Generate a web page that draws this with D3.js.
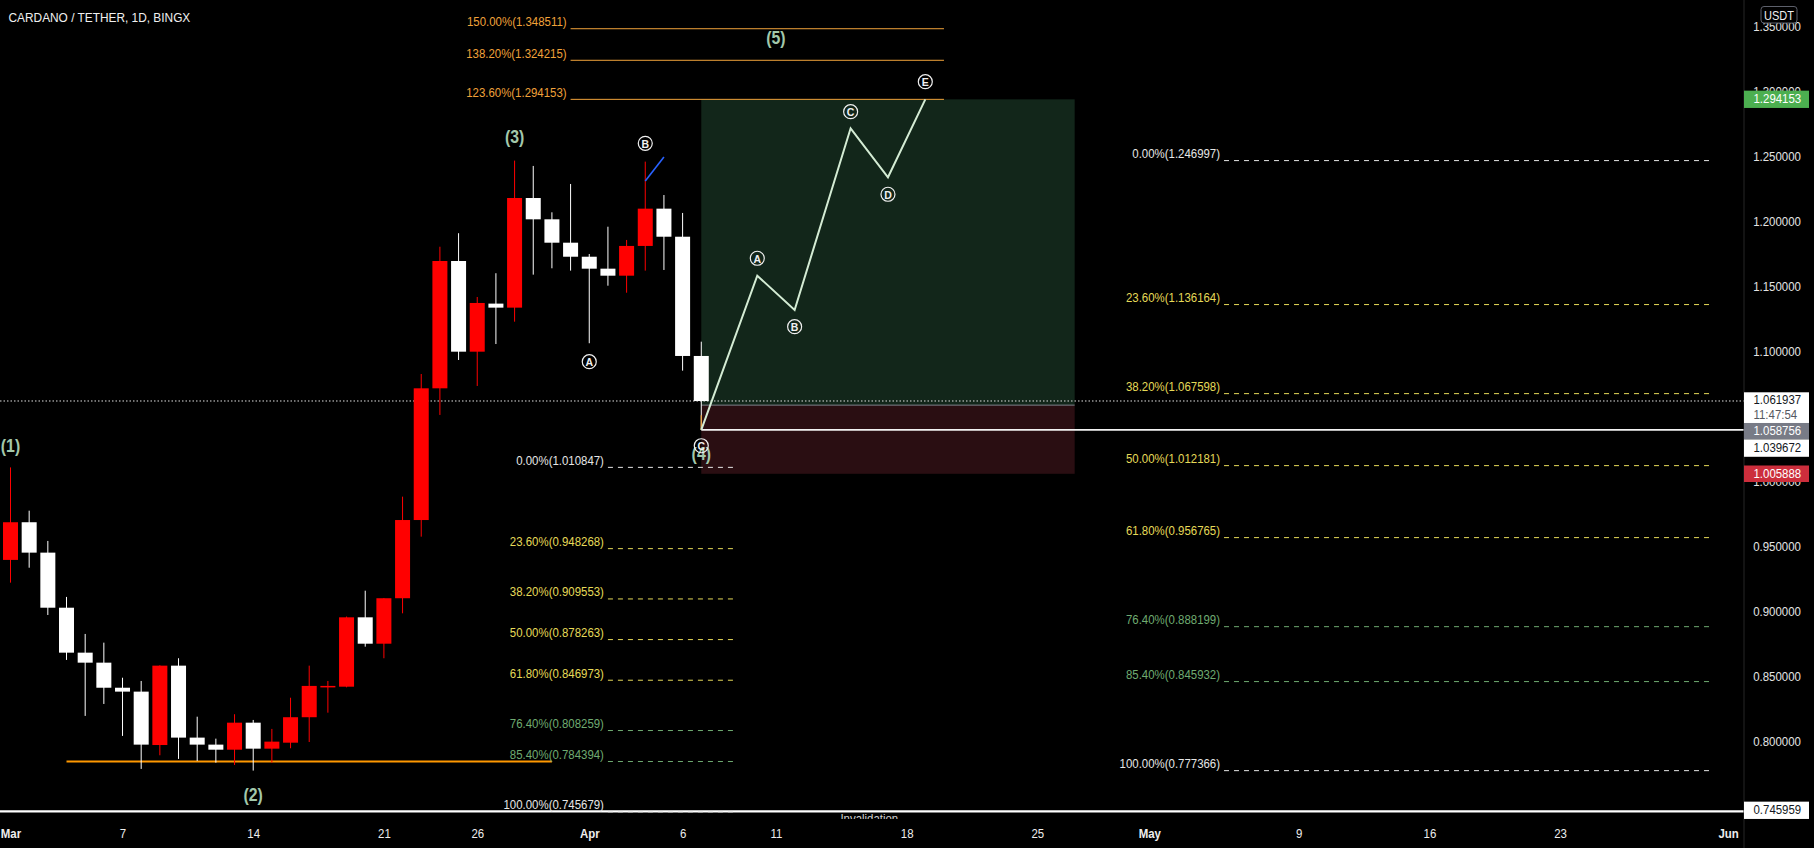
<!DOCTYPE html>
<html><head><meta charset="utf-8">
<script src="https://cdn.jsdelivr.net/npm/d3@7/dist/d3.min.js"></script>
<style>html,body{margin:0;padding:0;background:#000;overflow:hidden}</style>
</head><body>
<svg id="c" width="1814" height="848"></svg>
<script>
// ---------------- DATA ----------------
const dates = ["2022-03-01","2022-03-02","2022-03-03","2022-03-04","2022-03-05","2022-03-06","2022-03-07","2022-03-08","2022-03-09","2022-03-10",
  "2022-03-11","2022-03-12","2022-03-13","2022-03-14","2022-03-15","2022-03-16","2022-03-17","2022-03-18","2022-03-19","2022-03-20",
  "2022-03-21","2022-03-22","2022-03-23","2022-03-24","2022-03-25","2022-03-26","2022-03-27","2022-03-28","2022-03-29","2022-03-30",
  "2022-03-31","2022-04-01","2022-04-02","2022-04-03","2022-04-04","2022-04-05","2022-04-06","2022-04-07"];
const open  = [0.9396,0.9686,0.9452,0.9028,0.8682,0.8605,0.8412,0.8382,0.7971,0.8582,
  0.8028,0.7974,0.7935,0.8143,0.7943,0.7989,0.8185,0.8420,0.8420,0.8954,
  0.8751,0.9101,0.9703,1.0717,1.1697,1.0999,1.1369,1.1338,1.2182,1.2018,
  1.1838,1.1730,1.1638,1.1584,1.1813,1.2100,1.1884,1.0966];
const high  = [1.0108,0.9775,0.9542,0.9111,0.8826,0.8759,0.8489,0.8464,0.8585,0.8639,
  0.8189,0.8020,0.8208,0.8164,0.8095,0.8335,0.8582,0.8464,0.8960,0.9159,
  0.9103,0.9883,1.0827,1.1807,1.1911,1.1420,1.1603,1.2470,1.2429,1.2072,
  1.2290,1.1751,1.1961,1.1859,1.2462,1.2205,1.2067,1.1076];
const low   = [0.9221,0.9336,0.8972,0.8626,0.8195,0.8287,0.8041,0.7787,0.7892,0.7864,
  0.7848,0.7835,0.7817,0.7774,0.7835,0.7946,0.7994,0.8220,0.8415,0.8728,
  0.8639,0.8985,0.9575,1.0512,1.0935,1.0735,1.1058,1.1230,1.1592,1.1641,
  1.1623,1.1064,1.1507,1.1453,1.1623,1.1628,1.0853,1.0397];
const close = [0.9686,0.9452,0.9028,0.8682,0.8605,0.8412,0.8382,0.7974,0.8582,0.8028,
  0.7974,0.7935,0.8143,0.7943,0.7997,0.8185,0.8426,0.8426,0.8954,0.8751,
  0.9101,0.9703,1.0717,1.1697,1.0999,1.1374,1.1338,1.2182,1.2018,1.1838,
  1.1730,1.1638,1.1584,1.1813,1.2100,1.1884,1.0966,1.0619];

const xTickDates  = ["2022-03-01","2022-03-07","2022-03-14","2022-03-21","2022-03-26","2022-04-01","2022-04-06","2022-04-11","2022-04-18","2022-04-25","2022-05-01","2022-05-09","2022-05-16","2022-05-23","2022-06-01"];
const xTickLabels = ["Mar","7","14","21","26","Apr","6","11","18","25","May","9","16","23","Jun"];
const yTicks = [0.75,0.80,0.85,0.90,0.95,1.00,1.10,1.15,1.20,1.25,1.30,1.35];

// Fibonacci retracement (left), retracement (right), extension (top)
const leftFibPct  = [0,23.6,38.2,50,61.8,76.4,85.4,100];
const leftFibVal  = [1.010847,0.948268,0.909553,0.878263,0.846973,0.808259,0.784394,0.745679];
const rightFibPct = [0,23.6,38.2,50,61.8,76.4,85.4,100];
const rightFibVal = [1.246997,1.136164,1.067598,1.012181,0.956765,0.888199,0.845932,0.777366];
const extFibPct   = [123.6,138.2,150];
const extFibVal   = [1.294153,1.324215,1.348511];

// projected wave path (A-B-C-D-E)
const projDates  = ["2022-04-07","2022-04-10","2022-04-12","2022-04-15","2022-04-17","2022-04-19"];
const projValues = [1.039672,1.15841,1.13201,1.27188,1.23416,1.294153];
const projLetters = ["","A","B","C","D","E"];
const projLabelValues = [null,1.17181,1.11915,1.28466,1.22108,1.30776];

// Elliott wave labels
const waveNames  = ["(1)","(2)","(3)","(4)","(5)"];
const waveDates  = ["2022-03-01","2022-03-14","2022-03-28","2022-04-07","2022-04-11"];
const waveValues = [1.0275,0.7586,1.2654,1.0212,1.3409];
// circled correction labels
const corrLetters = ["A","B","C"];
const corrDates   = ["2022-04-01","2022-04-04","2022-04-07"];
const corrValues  = [1.0922,1.2603,1.0275];

// position tool
const entryPrice = 1.058756, targetPrice = 1.294153, stopPrice = 1.005888;
const posStart = "2022-04-07", posEnd = "2022-04-27";
const lastPrice = 1.061937, countdown = "11:47:54";
const lowLine = 1.039672, bottomLine = 0.745959, supportLine = 0.784394;
const blueDates = ["2022-04-04","2022-04-05"], blueValues = [1.2313,1.2498];

// ---------------- DRAW ----------------
const W = 1814, H = 848, plotR = 1744, plotB = 819, SX = 0.88;
const FONT = "'Liberation Sans', Arial, sans-serif";
const P = d3.utcParse("%Y-%m-%d");
const svg = d3.select("#c").attr("font-family", FONT);
svg.append("rect").attr("width", W).attr("height", H).attr("fill", "#000");

const x = d3.scaleUtc().domain([P("2022-03-01"), P("2022-06-01")]).range([10.5, 1728.1]);
const y = d3.scaleLinear().domain([0.75, 1.35]).range([806.2, 26.8]);

svg.append("clipPath").attr("id", "pc").append("rect").attr("width", plotR).attr("height", plotB);
const g = svg.append("g").attr("clip-path", "url(#pc)");

function T(sel, px, py, s, o = {}) {
  return sel.append("text")
    .attr("transform", `translate(${px},${py}) scale(${o.sx ?? SX},1)`)
    .attr("text-anchor", o.anchor || "start")
    .attr("dominant-baseline", o.base || "auto")
    .attr("font-size", o.size || 13)
    .attr("font-weight", o.weight || "normal")
    .attr("fill", o.fill || "#fff")
    .text(s);
}
function hline(sel, x0, x1, v, color, w, dash) {
  return sel.append("line").attr("x1", x0).attr("x2", x1).attr("y1", y(v)).attr("y2", y(v))
    .attr("stroke", color).attr("stroke-width", w).attr("stroke-dasharray", dash || null);
}

// position boxes
const bx0 = x(P(posStart)), bx1 = x(P(posEnd));
g.append("rect").attr("x", bx0).attr("width", bx1 - bx0).attr("y", y(targetPrice)).attr("height", y(entryPrice) - y(targetPrice)).attr("fill", "#12261a");
g.append("rect").attr("x", bx0).attr("width", bx1 - bx0).attr("y", y(entryPrice)).attr("height", y(stopPrice) - y(entryPrice)).attr("fill", "#2a0e12");
hline(g, bx0, bx1, entryPrice, "#7f838c", 1);

// lines
hline(g, 0, plotR, lastPrice, "#e0e0e0", 1, "1.5,2");
hline(g, bx0, plotR, lowLine, "#f2f2f2", 1.6);
hline(g, 0, plotR, bottomLine, "#ffffff", 2.2);
hline(g, x(P("2022-03-04")), x(P("2022-03-30")), supportLine, "#ff9800", 2);

// fib levels
function fibColor(p) {
  if (p === 0 || p === 100) return "#e6e6e6";
  if (p > 100) return "#f0a23a";
  if (p > 70) return "#6fab71";
  return "#e6da58";
}
function drawFib(pcts, vals, d0, d1, dashed) {
  const x0 = x(d0), x1 = x(d1);
  pcts.forEach((p, i) => {
    const c = fibColor(p);
    hline(g, x0, x1, vals[i], c, 1, dashed ? "5,5" : null);
    T(g, x0 - 4, y(vals[i]) - 2.5, `${p.toFixed(2)}%(${vals[i].toFixed(6)})`, {anchor: "end", fill: c});
  });
}
drawFib(leftFibPct, leftFibVal, P("2022-04-02"), new Date(Date.UTC(2022, 3, 8, 18)), true);
drawFib(rightFibPct, rightFibVal, P("2022-05-05"), P("2022-05-31"), true);
drawFib(extFibPct, extFibVal, P("2022-03-31"), P("2022-04-20"), false);

// candles
const candles = dates.map((d, i) => ({d: P(d), o: open[i], h: high[i], l: low[i], c: close[i]}));
const cg = g.append("g");
const up = d => d.c >= d.o;
cg.selectAll("line.w").data(candles).join("line")
  .attr("x1", d => x(d.d)).attr("x2", d => x(d.d)).attr("y1", d => y(d.h)).attr("y2", d => y(d.l))
  .attr("stroke", d => up(d) ? "#ff0000" : "#ffffff").attr("stroke-width", 1);
cg.selectAll("rect.b").data(candles).join("rect")
  .attr("x", d => x(d.d) - 7.5).attr("width", 15)
  .attr("y", d => y(Math.max(d.o, d.c))).attr("height", d => Math.max(1.5, Math.abs(y(d.o) - y(d.c))))
  .attr("fill", d => up(d) ? "#ff0000" : "#ffffff");

// small orange anchor segment and blue line
g.append("line").attr("x1", x(P(posStart))).attr("x2", x(P(posStart))).attr("y1", y(1.051)).attr("y2", y(lowLine)).attr("stroke", "#f0a23a").attr("stroke-width", 1.2);
g.append("path").attr("d", d3.line()(blueDates.map((d, i) => [x(P(d)), y(blueValues[i])])))
  .attr("stroke", "#2962ff").attr("stroke-width", 1.6).attr("fill", "none");

// projection path
g.append("path").attr("d", d3.line()(projDates.map((d, i) => [x(P(d)), y(projValues[i])])))
  .attr("stroke", "#d4ecd4").attr("stroke-width", 2).attr("fill", "none").attr("stroke-linejoin", "miter");

function circled(px, py, letter) {
  g.append("circle").attr("cx", px).attr("cy", py).attr("r", 7).attr("fill", "none").attr("stroke", "#f0f0f0").attr("stroke-width", 1.2);
  T(g, px, py + 0.5, letter, {anchor: "middle", base: "central", size: 10.5, weight: "bold", sx: 1, fill: "#f0f0f0"});
}
// wave labels
waveNames.forEach((n, i) => T(g, x(P(waveDates[i])), y(waveValues[i]), n, {anchor: "middle", base: "central", size: 18, weight: "bold", fill: "#a3c8ab"}));
corrLetters.forEach((l, i) => circled(x(P(corrDates[i])), y(corrValues[i]), l));
projLetters.forEach((l, i) => { if (l) circled(x(P(projDates[i])), y(projLabelValues[i]), l); });

// partially hidden text of the position tool
T(g, x(P("2022-04-16")), 823, "Invalidation", {anchor: "middle", fill: "#cfcfcf"});

// title
T(svg, 8.5, 17, "CARDANO / TETHER, 1D, BINGX", {base: "central", size: 13.5, fill: "#f0f0f0"});

// ---------------- AXES ----------------
svg.append("line").attr("x1", plotR).attr("x2", plotR).attr("y1", 0).attr("y2", H).attr("stroke", "#262626");

const gx = svg.append("g").attr("transform", `translate(0,${plotB})`)
  .call(d3.axisBottom(x).tickValues(xTickDates.map(P)).tickFormat((d, i) => xTickLabels[i]).tickSize(0).tickPadding(0));
gx.select(".domain").remove();
gx.attr("font-family", FONT).attr("font-size", 13);
gx.selectAll("text").attr("y", 15).attr("dy", null).attr("dominant-baseline", "central")
  .attr("fill", "#eeeeee").attr("transform", `scale(${SX},1)`)
  .attr("font-weight", (d, i) => isNaN(+xTickLabels[i]) ? "bold" : "normal");

const gy = svg.append("g").attr("transform", `translate(${plotR},0)`)
  .call(d3.axisRight(y).tickValues(yTicks).tickFormat(d3.format(".6f")).tickSize(0).tickPadding(10.5));
gy.select(".domain").remove();
gy.attr("font-family", FONT).attr("font-size", 13);
gy.selectAll("text").attr("fill", "#e3e3e3").attr("transform", `scale(${SX},1)`);

// price labels on axis
const ax = svg.append("g");
function tag(top, h, fill, lines) {
  ax.append("rect").attr("x", plotR).attr("y", top).attr("width", 65).attr("height", h).attr("fill", fill);
  lines.forEach(l => T(ax, plotR + 9.5, l.y, l.t, {base: "central", fill: l.c}));
}
tag(y(targetPrice) - 8.7, 17.3, "#4caf50", [{t: targetPrice.toFixed(6), y: y(targetPrice) - 0.5, c: "#ffffff"}]);
const st = y(lastPrice) - 8.7;
tag(st, 30.7, "#ffffff", [{t: lastPrice.toFixed(6), y: st + 7.5, c: "#131722"}, {t: countdown, y: st + 22, c: "#555861"}]);
tag(st + 30.7, 16.4, "#787b86", [{t: entryPrice.toFixed(6), y: st + 38.9, c: "#ffffff"}]);
tag(st + 47.1, 17.4, "#ffffff", [{t: lowLine.toFixed(6), y: st + 55.8, c: "#131722"}]);
tag(y(stopPrice) - 8.3, 16.5, "#cc2e3c", [{t: stopPrice.toFixed(6), y: y(stopPrice) - 0.2, c: "#ffffff"}]);
tag(y(bottomLine) - 9.8, 17.3, "#ffffff", [{t: bottomLine.toFixed(6), y: y(bottomLine) - 1.2, c: "#131722"}]);

ax.append("rect").attr("x", 1761).attr("y", 6.5).attr("width", 36).attr("height", 16.5).attr("rx", 3)
  .attr("fill", "#000").attr("stroke", "#5d606b").attr("stroke-width", 1);
T(ax, 1779, 15, "USDT", {anchor: "middle", base: "central", size: 12.5, fill: "#f0f0f0"});
</script>
</body></html>
